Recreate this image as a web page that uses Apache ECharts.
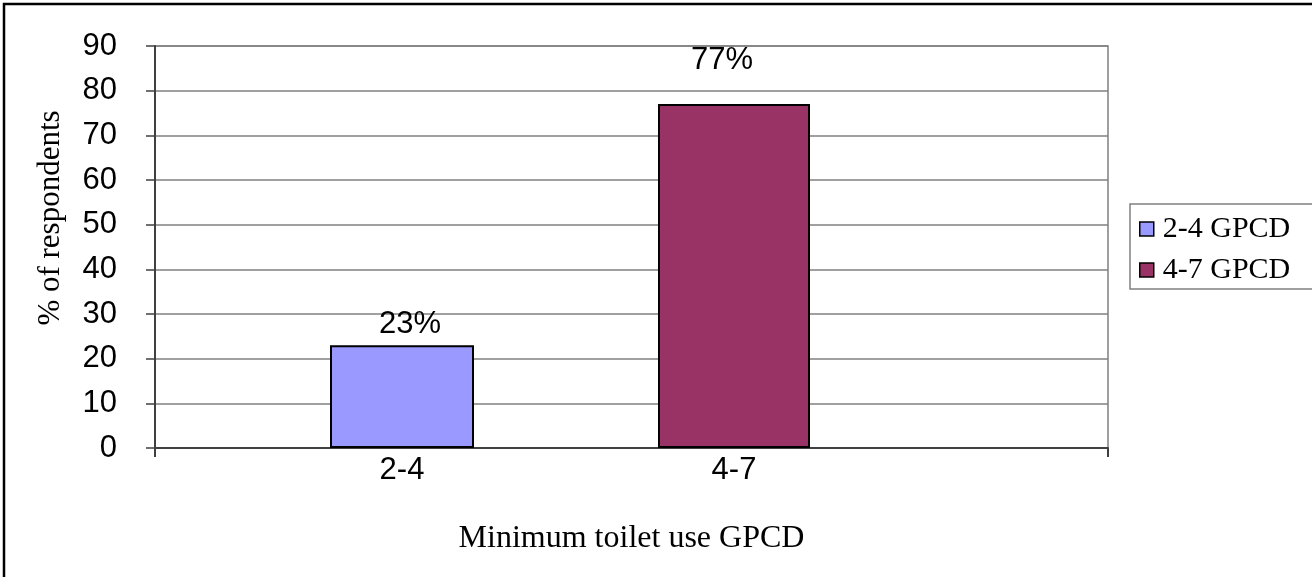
<!DOCTYPE html>
<html>
<head>
<meta charset="utf-8">
<title>Minimum toilet use GPCD</title>
<script src="https://cdn.jsdelivr.net/npm/echarts@6/dist/echarts.min.js"></script>
<style>
  html, body { margin: 0; padding: 0; background: #fff; }
  #chart { width: 1312px; height: 577px; }
</style>
</head>
<body>
<div id="chart"></div>
<script>
// Survey results: share of respondents by minimum toilet use (gallons per capita per day)
const categories = ['2-4', '4-7'];
const seriesNames = ['2-4 GPCD', '4-7 GPCD'];
const lowRangeValues = [23, '-'];
const highRangeValues = ['-', 77];
const yTicks = { min: 0, max: 90, step: 10 };

const chart = echarts.init(document.getElementById('chart'));

const sansFont = 'Arial, "Liberation Sans", sans-serif';
const serifFont = '"Times New Roman", "Liberation Serif", serif';

// Plot frame and bar area
const plot = { left: 155, right: 1108, top: 46, bottom: 448 };
const barArea = { left: 236, right: 900 };

chart.setOption({
  animation: false,
  backgroundColor: '#ffffff',
  graphic: [
    {
      type: 'rect',
      shape: { x: 4, y: 4, width: 1340, height: 600 },
      style: { fill: 'none', stroke: '#000', lineWidth: 2.5 },
      silent: true
    },
    {
      type: 'text',
      x: 51,
      y: 218,
      rotation: Math.PI / 2,
      style: {
        text: '% of respondents',
        font: '31px ' + serifFont,
        fill: '#000',
        align: 'center',
        verticalAlign: 'middle'
      }
    }
  ],
  legend: {
    orient: 'vertical',
    left: 1130,
    top: 204,
    data: seriesNames,
    icon: 'rect',
    itemWidth: 14,
    itemHeight: 14,
    itemGap: 11,
    padding: [10, 60, 4, 9],
    borderColor: '#808080',
    borderWidth: 1.5,
    backgroundColor: '#fff',
    itemStyle: { borderColor: '#000', borderWidth: 1.5 },
    textStyle: {
      fontFamily: serifFont,
      fontSize: 30,
      lineHeight: 30,
      color: '#000',
      padding: [0, 0, 0, 4]
    }
  },
  grid: [
    {
      left: plot.left,
      right: 1312 - plot.right,
      top: plot.top,
      bottom: 577 - plot.bottom,
      show: true,
      borderColor: '#808080',
      borderWidth: 1.5,
      backgroundColor: 'transparent'
    },
    {
      left: barArea.left,
      right: 1312 - barArea.right,
      top: plot.top,
      bottom: 577 - plot.bottom
    }
  ],
  xAxis: [
    {
      gridIndex: 0,
      type: 'value',
      min: 0,
      max: 1,
      interval: 1,
      axisLine: { show: true, lineStyle: { color: '#404040', width: 2 } },
      axisTick: { show: true, length: 9, lineStyle: { color: '#404040', width: 2 } },
      axisLabel: { show: false },
      splitLine: { show: false },
      name: 'Minimum toilet use GPCD',
      nameLocation: 'middle',
      nameGap: 75,
      nameTextStyle: { fontFamily: serifFont, fontSize: 32, color: '#000' }
    },
    {
      gridIndex: 1,
      type: 'category',
      data: categories,
      axisLine: { show: false },
      axisTick: { show: false },
      axisLabel: {
        fontFamily: sansFont,
        fontSize: 31,
        color: '#000',
        margin: 7
      }
    },
    {
      gridIndex: 1,
      type: 'category',
      data: categories,
      show: false
    }
  ],
  yAxis: [
    {
      gridIndex: 0,
      type: 'value',
      min: yTicks.min,
      max: yTicks.max,
      interval: yTicks.step,
      axisLine: { show: true, lineStyle: { color: '#404040', width: 2 } },
      axisTick: { show: true, inside: false, length: 9, lineStyle: { color: '#404040', width: 1.5 } },
      axisLabel: {
        fontFamily: sansFont,
        fontSize: 31,
        color: '#000',
        margin: 38
      },
      splitLine: { show: true, lineStyle: { color: '#808080', width: 1.5 } }
    },
    {
      gridIndex: 1,
      type: 'value',
      min: yTicks.min,
      max: yTicks.max,
      show: false
    }
  ],
  series: [
    {
      name: seriesNames[0],
      type: 'bar',
      xAxisIndex: 1,
      yAxisIndex: 1,
      data: lowRangeValues,
      barWidth: 144,
      itemStyle: { color: '#9999FF', borderColor: '#000', borderWidth: 2 },
      label: {
        show: true,
        position: 'top',
        distance: 5,
        offset: [8, 0],
        formatter: '{c}%',
        fontFamily: sansFont,
        fontSize: 31,
        color: '#000'
      }
    },
    {
      name: seriesNames[1],
      type: 'bar',
      xAxisIndex: 2,
      yAxisIndex: 1,
      data: highRangeValues,
      barWidth: 152,
      itemStyle: { color: '#993366', borderColor: '#000', borderWidth: 2 },
      label: {
        show: true,
        position: 'top',
        distance: 28,
        offset: [-12, 0],
        formatter: '{c}%',
        fontFamily: sansFont,
        fontSize: 31,
        color: '#000'
      }
    }
  ]
});
</script>
</body>
</html>
